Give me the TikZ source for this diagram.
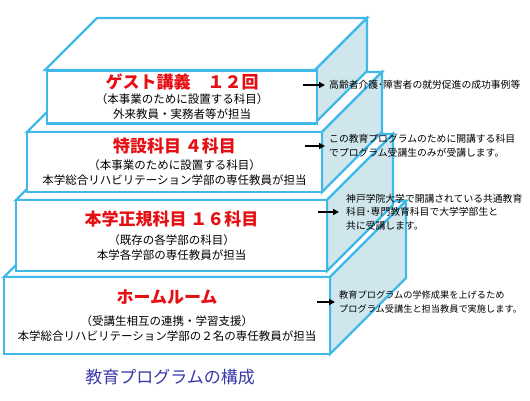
\documentclass[tikz,border=0pt]{standalone}
\usepackage{fontspec}
\setmainfont{Noto Sans CJK JP}
\usepackage{tikz}
\usetikzlibrary{arrows.meta}

\definecolor{edgeblue}{RGB}{64,184,232}
\definecolor{sideblue}{RGB}{206,230,236}
\definecolor{titlered}{RGB}{230,16,20}
\definecolor{captionblue}{RGB}{56,56,168}
\newcommand{\headfont}{\fontsize{17}{20}\selectfont\bfseries\color{titlered}}

\begin{document}
\begin{tikzpicture}[
    x=1pt, y=-1pt,
    face/.style={draw=edgeblue, line width=2.4pt, fill=white},
    side/.style={face, fill=sideblue},
    front/.style={
        face, inner sep=0pt, align=center,
        font=\fontsize{11.5}{15}\selectfont
    },
    note/.style={
        anchor=west, inner ysep=1pt, inner xsep=4pt, align=left,
        font=\fontsize{9.8}{13.5}\selectfont
    },
    pointer/.style={-{Triangle[length=6pt,width=6pt]}, line width=1.4pt}
]
\useasboundingbox (0,0) rectangle (530,400);

% 1. Bottom block: home room
\draw[face] (4,277) -- ++(76,-76) -- ++(326,0) -- (330,277) -- cycle;
\draw[side] (330,277) -- ++(76,-76) -- ++(0,77) -- (330,354) -- cycle;
\node[front, minimum width=326, minimum height=77] (homeroom) at (167,315.5) {
    {\headfont ホームルーム}\\[7pt]
    （受講生相互の連携・学習支援）\\
    本学総合リハビリテーション学部の２名の専任教員が担当
};

% 2. Regular courses
\draw[face] (16,200) -- ++(66,-66) -- ++(311,0) -- (327,200) -- cycle;
\draw[side] (327,200) -- ++(66,-66) -- ++(0,71) -- (327,271) -- cycle;
\node[front, minimum width=311, minimum height=71] (regular) at (171.5,235.5) {
    {\headfont 本学正規科目 １６科目}\\[4pt]
    （既存の各学部の科目）\\
    本学各学部の専任教員が担当
};

% 3. Special courses
\draw[face] (27,132) -- ++(60,-60) -- ++(295,0) -- (322,132) -- cycle;
\draw[side] (322,132) -- ++(60,-60) -- ++(0,60) -- (322,192) -- cycle;
\node[front, minimum width=295, minimum height=60] (special) at (174.5,162) {
    {\headfont 特設科目 ４科目}\\[2pt]
    （本事業のために設置する科目）\\
    本学総合リハビリテーション学部の専任教員が担当
};

% 4. Top block: guest lectures
\draw[face] (45,70) -- ++(52,-52) -- ++(270,0) -- (315,70) -- cycle;
\draw[side] (315,70) -- ++(52,-52) -- ++(0,53) -- (315,123) -- cycle;
\node[front, minimum width=270, minimum height=53] (guest) at (182,97) {
    {\headfont ゲスト講義　１２回}\\
    （本事業のために設置する科目）\\
    外来教員・実務者等が担当
};

% 5. Notes on the right
\node[note] (guest-note) at (325,85) {高齢者介護･障害者の就労促進の成功事例等};
\node[note] (special-note) at (325,146) {この教育プログラムのために開講する科目\\でプログラム受講生のみが受講します。};
\node[note, inner xsep=7pt] (regular-note) at (339,212) {神戸学院大学で開講されている共通教育\\科目･専門教育科目で大学学部生と\\共に受講します。};
\node[note, inner xsep=4pt, font=\fontsize{9.2}{13.5}\selectfont] (homeroom-note) at (335,302) {教育プログラムの学修成果を上げるため\\プログラム受講生と担当教員で実施します。};

\coordinate (guest-tail) at (303,85);
\coordinate (special-tail) at (305,146);
\coordinate (regular-tail) at (318,212);
\coordinate (homeroom-tail) at (317,302);
\draw[pointer] (guest-tail) -- (guest-note.west);
\draw[pointer] (special-tail) -- (special-note.west);
\draw[pointer] (regular-tail) -- (regular-note.west);
\draw[pointer] (homeroom-tail) -- (homeroom-note.west);

% 6. Caption
\node[font=\fontsize{17}{20}\selectfont, text=captionblue] (caption) at (170,377) {教育プログラムの構成};

\end{tikzpicture}
\end{document}
